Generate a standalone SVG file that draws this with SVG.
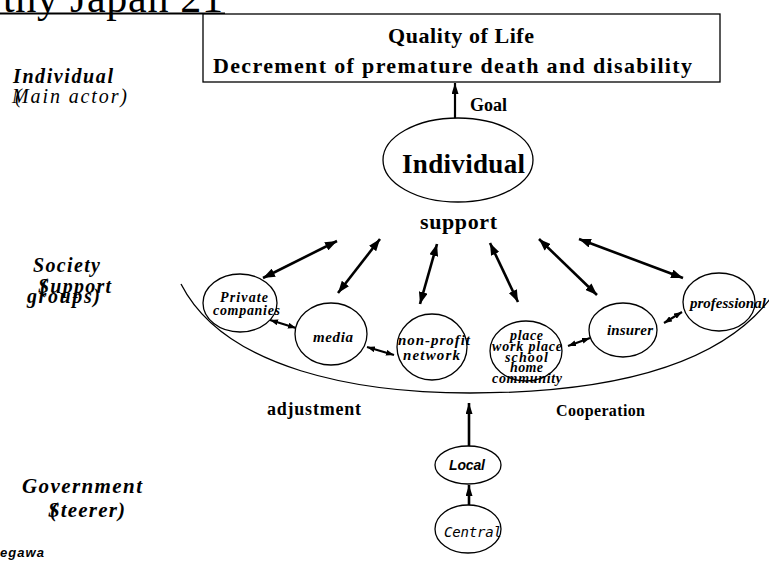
<svg xmlns="http://www.w3.org/2000/svg" width="769" height="561" viewBox="0 0 769 561">
<style>
.serif{font-family:"Liberation Serif","Times New Roman",serif;fill:#000}
.b{font-weight:bold}
.i{font-style:italic}
.node{fill:#fff;stroke:#000;stroke-width:1.3}
.conn{stroke:#000;fill:none}
</style>
<defs>
<marker id="ah" markerUnits="userSpaceOnUse" viewBox="0 0 12 9" refX="12" refY="4.5" markerWidth="12" markerHeight="9" orient="auto-start-reverse"><path d="M0,0 L12,4.5 L0,9 z" fill="#000"/></marker>
<marker id="as" markerUnits="userSpaceOnUse" viewBox="0 0 8 6" refX="8" refY="3" markerWidth="8" markerHeight="6" orient="auto-start-reverse"><path d="M0,0 L8,3 L0,6 z" fill="#000"/></marker>
<marker id="av" markerUnits="userSpaceOnUse" viewBox="0 0 11 7" refX="11" refY="3.5" markerWidth="11" markerHeight="7" orient="auto"><path d="M0,0 L11,3.5 L0,7 z" fill="#000"/></marker>
</defs>

<g id="title">
<text class="serif" x="3" y="12" font-size="42" textLength="220">thy Japan 21</text>
<line x1="0" y1="13.5" x2="225" y2="13.5" stroke="#000" stroke-width="2"/>
</g>

<g id="left-labels" class="serif b i">
<text x="13" y="83" font-size="20" textLength="100">Individual</text>
<text x="15" y="103" font-size="20" font-weight="normal">(<tspan x="12" textLength="115">Main actor)</tspan></text>
<text x="33" y="272" font-size="20" textLength="67">Society</text>
<text x="40" y="293" font-size="20">(<tspan x="38" textLength="73">Support</tspan></text>
<text x="27" y="303" font-size="20" textLength="73">groups)</text>
<text x="22" y="493" font-size="21" textLength="120">Government</text>
<text x="50" y="517" font-size="21">(<tspan x="48" textLength="77">Steerer)</tspan></text>
</g>
<text id="author" x="0" y="557" font-family="Liberation Sans, Arial, sans-serif" font-weight="bold" font-style="italic" font-size="13" textLength="44">egawa</text>

<g id="goal-box">
<rect x="203" y="14" width="517" height="68" fill="#fff" stroke="#000" stroke-width="1.3"/>
<text class="serif b" x="388" y="43" font-size="22" textLength="146">Quality of Life</text>
<text class="serif b" x="213" y="73" font-size="22" textLength="479">Decrement of premature death and disability</text>
</g>

<g id="connectors">
<path class="conn" stroke-width="1.3" d="M181,284 C225,370 360,393 470,393 C600,393 715,370 770,299"/>
<line class="conn" x1="455" y1="119" x2="455" y2="83" stroke-width="2.2" marker-end="url(#av)"/>
<line class="conn" x1="337" y1="241" x2="263" y2="278" stroke-width="2.6" marker-start="url(#ah)" marker-end="url(#ah)"/>
<line class="conn" x1="380" y1="239" x2="338" y2="293" stroke-width="2.6" marker-start="url(#ah)" marker-end="url(#ah)"/>
<line class="conn" x1="437" y1="244" x2="420" y2="304" stroke-width="2.6" marker-start="url(#ah)" marker-end="url(#ah)"/>
<line class="conn" x1="490" y1="243" x2="518" y2="302" stroke-width="2.6" marker-start="url(#ah)" marker-end="url(#ah)"/>
<line class="conn" x1="539" y1="239" x2="597" y2="295" stroke-width="2.6" marker-start="url(#ah)" marker-end="url(#ah)"/>
<line class="conn" x1="579" y1="239" x2="683" y2="278" stroke-width="2.6" marker-start="url(#ah)" marker-end="url(#ah)"/>
<line class="conn" x1="270" y1="320" x2="296" y2="328" stroke-width="2.2" marker-start="url(#as)" marker-end="url(#as)"/>
<line class="conn" x1="367" y1="347" x2="394" y2="355" stroke-width="2.2" marker-start="url(#as)" marker-end="url(#as)"/>
<line class="conn" x1="568" y1="346" x2="590" y2="338" stroke-width="2.2" marker-start="url(#as)" marker-end="url(#as)"/>
<line class="conn" x1="664" y1="323" x2="682" y2="312" stroke-width="2.2" marker-start="url(#as)" marker-end="url(#as)"/>
<line class="conn" x1="469" y1="447" x2="469" y2="403" stroke-width="2.6" marker-end="url(#av)"/>
<line class="conn" x1="469" y1="505" x2="469" y2="485" stroke-width="2.6" marker-end="url(#av)"/>
</g>

<g id="individual">
<ellipse class="node" cx="458" cy="160" rx="75" ry="42"/>
<text class="serif b" x="402" y="173" font-size="27" textLength="123">Individual</text>
</g>
<text id="goal-label" class="serif b" x="470" y="111" font-size="18">Goal</text>
<text id="support-label" class="serif b" x="420" y="229" font-size="22" textLength="77">support</text>

<g id="private" class="serif b i">
<ellipse class="node" cx="240" cy="303" rx="37" ry="29"/>
<text x="220" y="302" font-size="14" textLength="48">Private</text>
<text x="213" y="315" font-size="14" textLength="67">companies</text>
</g>
<g id="media" class="serif b i">
<ellipse class="node" cx="331" cy="334" rx="36" ry="31"/>
<text x="313" y="342" font-size="15" textLength="40">media</text>
</g>
<g id="nonprofit" class="serif b i">
<ellipse class="node" cx="432" cy="347" rx="35" ry="33"/>
<text x="398" y="345" font-size="15" textLength="72">non-profit</text>
<text x="403" y="360" font-size="15" textLength="57">network</text>
</g>
<g id="place" class="serif b i">
<ellipse class="node" cx="526" cy="351" rx="36" ry="30"/>
<text x="510" y="340" font-size="14" textLength="33">place</text>
<text x="492" y="351" font-size="14" textLength="70">work place</text>
<text x="505" y="362" font-size="14" textLength="43">school</text>
<text x="510" y="372" font-size="14" textLength="33">home</text>
<text x="492" y="383" font-size="14" textLength="70">community</text>
</g>
<g id="insurer" class="serif b i">
<ellipse class="node" cx="623" cy="330" rx="34" ry="27"/>
<text x="607" y="335" font-size="15" textLength="46">insurer</text>
</g>
<g id="professional" class="serif b i">
<ellipse class="node" cx="719" cy="302" rx="36" ry="29"/>
<text x="690" y="308" font-size="15">professional</text>
</g>

<text id="adjustment-label" class="serif b" x="267" y="415" font-size="18" textLength="94">adjustment</text>
<text id="cooperation-label" class="serif b" x="556" y="416" font-size="16" textLength="89">Cooperation</text>

<g id="local">
<ellipse class="node" cx="468" cy="465" rx="33" ry="19"/>
<text x="449" y="470" font-family="Liberation Sans, Arial, sans-serif" font-weight="bold" font-style="italic" font-size="14" textLength="36">Local</text>
</g>
<g id="central">
<ellipse class="node" cx="468" cy="529" rx="33" ry="24"/>
<text x="444" y="537" font-family="DejaVu Sans Mono, monospace" font-style="italic" font-size="14" textLength="58">Central</text>
</g>
</svg>
